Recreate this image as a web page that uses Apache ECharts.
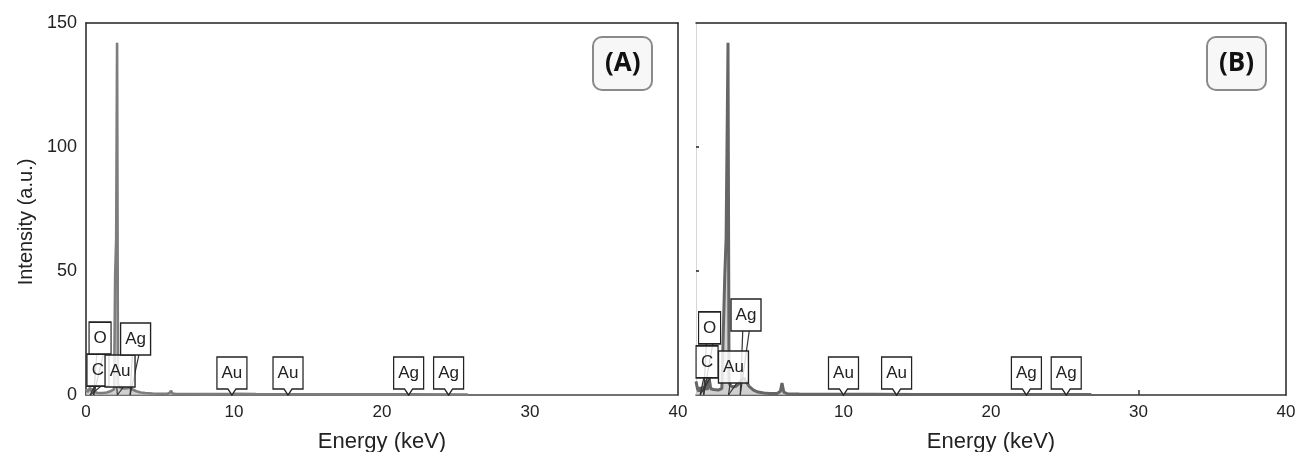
<!DOCTYPE html>
<html>
<head>
<meta charset="utf-8">
<script src="https://cdn.jsdelivr.net/npm/echarts@6/dist/echarts.min.js"></script>
<style>
html,body{margin:0;padding:0;background:#fff;}
#chart{width:1298px;height:452px;}
</style>
</head>
<body>
<div id="chart"></div>
<script>
// ---- data ----
const xTicks = [0, 10, 20, 30, 40];
const yTicks = [0, 50, 100, 150];
const panelTitles = ['(A)', '(B)'];
const xAxisName = 'Energy (keV)';
const yAxisName = 'Intensity (a.u.)';

// Spectrum A
const energyA = [0, 0.1, 0.2, 0.28, 0.36, 0.45, 0.52, 0.6, 0.75, 0.9, 1.1, 1.4, 1.7, 1.9, 1.97, 2.04, 2.1, 2.16, 2.25, 2.4, 2.6, 2.8, 2.98, 3.15, 3.4, 3.7, 4.0, 4.5, 5.0, 5.5, 5.65, 5.75, 5.85, 6.1, 7, 8, 9.7, 10, 11.5, 13, 15, 18, 22, 25.8];
const intensityA = [2.5, 1.2, 1.8, 3.0, 1.5, 1.4, 2.6, 1.2, 0.9, 0.8, 0.8, 1.0, 1.6, 2.4, 48, 63, 142, 5, 3.2, 2.8, 2.6, 2.7, 3.0, 2.2, 1.5, 1.0, 0.8, 0.6, 0.5, 0.5, 0.8, 1.7, 0.6, 0.4, 0.4, 0.35, 0.4, 0.45, 0.35, 0.3, 0.3, 0.25, 0.25, 0.2];

// Spectrum B
const energyB = [0, 0.1, 0.2, 0.28, 0.36, 0.45, 0.52, 0.6, 0.68, 0.76, 0.88, 1.0, 1.2, 1.5, 1.75, 1.95, 2.04, 2.17, 2.24, 2.3, 2.5, 2.7, 2.9, 3.0, 3.1, 3.25, 3.4, 3.6, 3.9, 4.2, 4.6, 5.0, 5.5, 5.72, 5.83, 5.95, 6.2, 7, 8, 10, 12, 15, 20, 26.8];
const intensityB = [5.5, 2.5, 1.5, 3.2, 1.4, 1.8, 3.5, 2.0, 6.0, 2.0, 7.3, 2.5, 2.2, 2.0, 2.6, 48, 63, 142, 6, 4.0, 3.2, 3.5, 4.5, 5.5, 6.2, 6.8, 5.5, 3.5, 2.0, 1.2, 0.8, 0.6, 0.6, 1.5, 4.8, 1.2, 0.5, 0.4, 0.35, 0.3, 0.3, 0.25, 0.2, 0.2];

// Element tags on baseline (pin callouts): name, energy
const pinNamesA = ['Au', 'Au', 'Ag', 'Ag'];
const pinEnergyA = [9.86, 13.65, 21.8, 24.5];
const pinNamesB = ['Au', 'Au', 'Ag', 'Ag'];
const pinEnergyB = [10.0, 13.6, 22.4, 25.1];

// Raised tags with leader lines: name, box centre energy, box bottom level, peak energy
const tagNamesA = ['C', 'O', 'Au', 'Ag'];
const tagEnergyA = [0.81, 0.95, 2.3, 3.35];
const tagLevelA = [3.6, 16.5, 3.2, 16.1];
const tagPeakA = [0.28, 0.52, 2.12, 2.98];

const tagNamesB = ['C', 'O', 'Au', 'Ag'];
const tagEnergyB = [0.75, 0.92, 2.54, 3.39];
const tagLevelB = [6.9, 20.6, 4.8, 25.8];
const tagPeakB = [0.28, 0.52, 2.2, 3.0];

// ---- chart ----
const chart = echarts.init(document.getElementById('chart'), null, {renderer: 'canvas'});
const TXT = '#222';
const FONT = 'Liberation Sans';

const grids = [
  {left: 86, top: 23, width: 592, height: 372},
  {left: 696, top: 23, width: 590, height: 372}
];

function boxW(name) { return name.length > 1 ? 30 : 22; }
const pinPath = 'path://M0,0H30V32H19L15,38L11,32H0Z';
const rectPath = 'path://M0,0H30V32H0Z';

function buildSeries(idx, energy, intens, pinNames, pinE, tagNames, tagE, tagL, tagP, lineColor, lineWidth) {
  const data = energy.map((e, i) => [e, intens[i]]);
  const mp = [];
  tagNames.forEach((n, i) => {
    mp.push({name: n, coord: [tagE[i], tagL[i]], symbol: rectPath, symbolSize: [boxW(n), 32],
      symbolOffset: [0, '-50%'], label: {offset: [0, 0]}});
  });
  pinNames.forEach((n, i) => {
    mp.push({name: n, coord: [pinE[i], 0], symbol: pinPath, symbolSize: [boxW(n), 38],
      symbolOffset: [0, '-50%'], label: {offset: [0, -3]}});
  });
  const ml = [];
  const d = 0.22;
  tagNames.forEach((n, i) => {
    ml.push([{coord: [tagP[i], 0]}, {coord: [tagE[i] - d, tagL[i]]}]);
    ml.push([{coord: [tagP[i], 0]}, {coord: [tagE[i] + d, tagL[i]]}]);
  });
  return {
    type: 'line', xAxisIndex: idx * 2, yAxisIndex: idx * 2,
    data: data, showSymbol: false, symbol: 'none', smooth: false,
    lineStyle: {color: lineColor, width: lineWidth},
    areaStyle: {color: '#c4c4c4', opacity: 0.8},
    z: 2,
    markLine: {silent: true, symbol: ['none', 'none'], animation: false,
      label: {show: false}, lineStyle: {color: '#333', width: 1.2, type: 'solid'},
      emphasis: {disabled: true}, data: ml},
    markPoint: {silent: true, animation: false,
      itemStyle: {color: 'rgba(255,255,255,0.82)', borderColor: '#222', borderWidth: 1.4},
      label: {show: true, position: 'inside', formatter: '{b}', color: TXT, fontSize: 17, fontFamily: FONT},
      data: mp}
  };
}

function bottomX(gi, showMin, axisColor, tickVals) {
  return {
    type: 'value', gridIndex: gi, position: 'bottom', min: 0, max: 40, interval: 10,
    name: xAxisName, nameLocation: 'middle', nameGap: 36,
    nameTextStyle: {fontSize: 22, color: TXT, fontFamily: FONT},
    axisLine: {show: true, onZero: false, lineStyle: {color: axisColor, width: 1.5}},
    axisTick: tickVals ? {show: true, inside: true, length: 5, customValues: tickVals, lineStyle: {color: '#333', width: 1.5}} : {show: false},
    axisLabel: {show: true, margin: 9, fontSize: 17, color: TXT, fontFamily: FONT, showMinLabel: showMin,
      customValues: xTicks},
    splitLine: {show: false}
  };
}
function topX(gi) {
  return {type: 'value', gridIndex: gi, position: 'top', min: 0, max: 40,
    axisLine: {show: true, onZero: false, lineStyle: {color: '#222', width: 1.5}},
    axisTick: {show: false}, axisLabel: {show: false}, splitLine: {show: false}};
}
function rightY(gi) {
  return {type: 'value', gridIndex: gi, position: 'right', min: 0, max: 150,
    axisLine: {show: true, onZero: false, lineStyle: {color: '#222', width: 1.5}},
    axisTick: {show: false}, axisLabel: {show: false}, splitLine: {show: false}};
}

const option = {
  animation: false,
  backgroundColor: '#fff',
  title: panelTitles.map((t, i) => ({
    text: t, left: i === 0 ? 593 : 1207, top: 37,
    padding: [14, 12, 13, 12],
    backgroundColor: '#f7f7f7', borderColor: '#8a8a8a', borderWidth: 2, borderRadius: 9,
    textStyle: {fontSize: 26, fontWeight: 'bold', color: '#111', fontFamily: 'Open Sans'}
  })),
  grid: grids.map(g => Object.assign({containLabel: false, outerBoundsMode: 'none'}, g)),
  xAxis: [bottomX(0, true, '#444', null), topX(0), bottomX(1, false, '#333', [30]), topX(1)],
  yAxis: [
    {type: 'value', gridIndex: 0, position: 'left', min: 0, max: 150, interval: 50,
      name: yAxisName, nameLocation: 'middle', nameGap: 50,
      nameTextStyle: {fontSize: 20, color: TXT, fontFamily: FONT, padding: [0, 26, 0, 0]},
      axisLine: {show: true, onZero: false, lineStyle: {color: '#222', width: 1.5}},
      axisTick: {show: false},
      axisLabel: {show: true, margin: 9, fontSize: 18, color: TXT, fontFamily: FONT, customValues: yTicks},
      splitLine: {show: false}},
    rightY(0),
    {type: 'value', gridIndex: 1, position: 'left', min: 0, max: 150, interval: 50,
      axisLine: {show: true, onZero: false, lineStyle: {color: '#d6d6d6', width: 1}},
      axisTick: {show: true, inside: true, length: 3, customValues: [50, 100], lineStyle: {color: '#222', width: 1.5}},
      axisLabel: {show: false},
      splitLine: {show: false}},
    rightY(1)
  ],
  series: [
    buildSeries(0, energyA, intensityA, pinNamesA, pinEnergyA, tagNamesA, tagEnergyA, tagLevelA, tagPeakA, '#7d7d7d', 2.6),
    buildSeries(1, energyB, intensityB, pinNamesB, pinEnergyB, tagNamesB, tagEnergyB, tagLevelB, tagPeakB, '#666', 3)
  ]
};
chart.setOption(option);
</script>
</body>
</html>
